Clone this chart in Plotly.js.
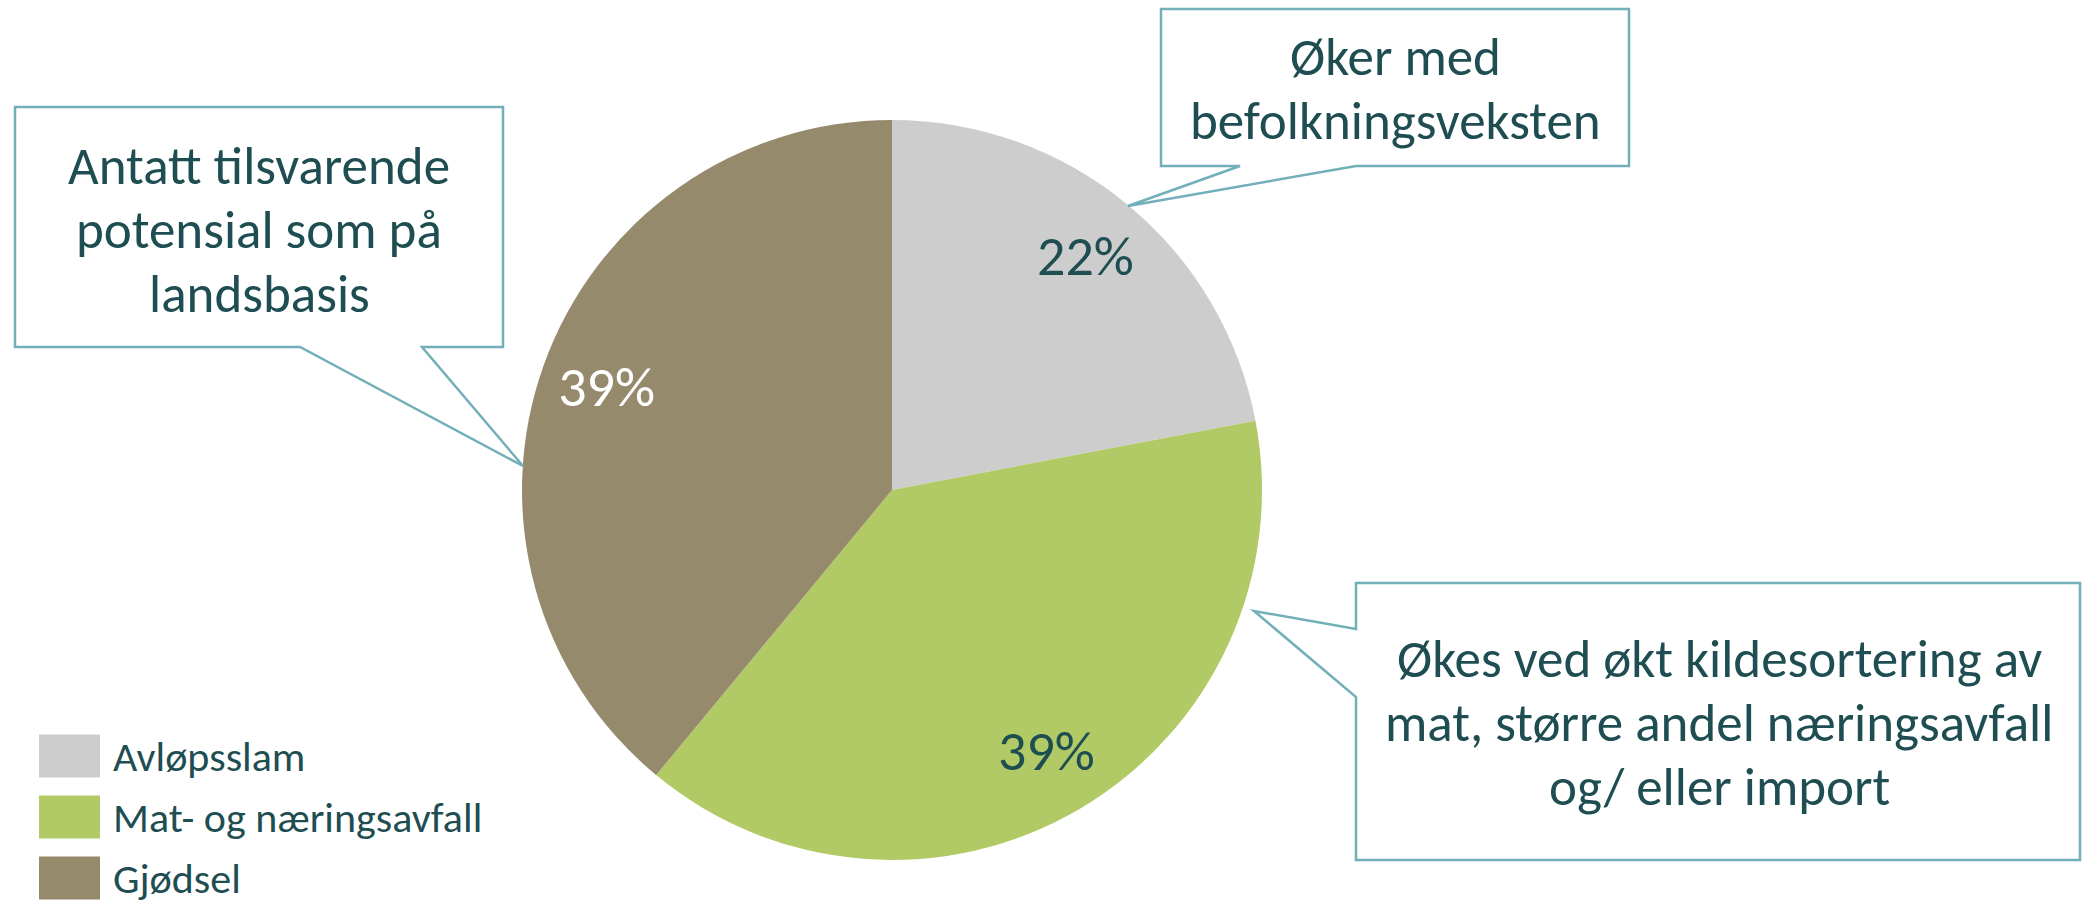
<!DOCTYPE html>
<html>
<head>
<meta charset="utf-8">
<script src="https://cdn.plot.ly/plotly-3.0.1.min.js"></script>
<style>html,body{margin:0;padding:0;background:#fff;}#chart{width:2083px;height:904px;}</style>
</head>
<body>
<div id="chart"></div>
<script>
// ---- data ----
const categories = ['Avløpsslam', 'Mat- og næringsavfall', 'Gjødsel'];
const values = [22, 39, 39];
const colors = ['#CDCDCD', '#B1CA65', '#968A6C'];
const labelColors = ['#1F4E52', '#1F4E52', '#FFFFFF'];
const calloutTexts = [
  ['Øker med', 'befolkningsveksten'],
  ['Økes ved økt kildesortering av', 'mat, større andel næringsavfall', 'og/ eller import'],
  ['Antatt tilsvarende', 'potensial som på', 'landsbasis']
];

// ---- layout helpers ----
const W = 2083, H = 904;
const FONT = 'Carlito, Lato, "Open Sans", sans-serif';
const TEXT = '#1F4E52';
const BORDER = '#72AFB9';
const px = (x) => x / W;
const py = (y) => 1 - y / H;
const P = (x, y) => px(x) + ',' + py(y);
function pathOf(points) {
  return 'M' + points.map(p => P(p[0], p[1])).join(' L') + ' Z';
}

const cx = 892, cy = 490, R = 370;
const domain = {
  x: [px(cx - R), px(cx + R)],
  y: [py(cy + R), py(cy - R)]
};

const traces = [
  {
    type: 'pie',
    labels: categories,
    values: values,
    sort: false,
    direction: 'clockwise',
    rotation: 0,
    domain: domain,
    marker: { colors: colors, line: { width: 0 } },
    textinfo: 'none',
    hoverinfo: 'label+percent',
    showlegend: false
  },
  {
    type: 'pie',
    labels: categories,
    values: values,
    sort: false,
    direction: 'clockwise',
    rotation: 0,
    hole: 0.64,
    domain: domain,
    marker: { colors: categories.map(() => 'rgba(0,0,0,0)'), line: { width: 0 } },
    texttemplate: '%{percent:.0%}',
    textposition: 'inside',
    insidetextorientation: 'horizontal',
    textfont: { family: FONT, size: 56, color: labelColors },
    hoverinfo: 'skip',
    showlegend: false
  }
];

// callout boxes (speech bubbles)
const LINE_GAP = 64;
const callouts = [
  { pts: [[1161, 9], [1629, 9], [1629, 166], [1356, 166], [1128, 206], [1240, 166], [1161, 166]], tx: 1395, ty0: 57 },
  { pts: [[1356, 583], [2080, 583], [2080, 860], [1356, 860], [1356, 697], [1254, 611], [1356, 629]], tx: 1719, ty0: 659 },
  { pts: [[15, 107], [503, 107], [503, 347], [422, 347], [523, 466], [300, 347], [15, 347]], tx: 259, ty0: 166 }
];

const shapes = [];
const annotations = [];
callouts.forEach((c, i) => {
  shapes.push({
    type: 'path', xref: 'paper', yref: 'paper',
    path: pathOf(c.pts),
    fillcolor: '#FFFFFF',
    line: { color: BORDER, width: 2.5 },
    layer: 'above'
  });
  calloutTexts[i].forEach((line, j) => {
    annotations.push({
      xref: 'paper', yref: 'paper', x: px(c.tx), y: py(c.ty0 + j * LINE_GAP),
      xanchor: 'center', yanchor: 'middle', align: 'center',
      showarrow: false, text: line,
      font: { family: FONT, size: 53, color: TEXT }
    });
  });
});

// custom legend
const legX = 39, legW = 61, legH = 43, legY0 = 756, legStep = 61;
categories.forEach((cat, i) => {
  const yc = legY0 + i * legStep;
  shapes.push({
    type: 'rect', xref: 'paper', yref: 'paper',
    x0: px(legX), x1: px(legX + legW), y0: py(yc + legH / 2), y1: py(yc - legH / 2),
    fillcolor: colors[i], line: { width: 0 }, layer: 'above'
  });
  annotations.push({
    xref: 'paper', yref: 'paper', x: px(111), y: py(yc),
    xanchor: 'left', yanchor: 'middle', showarrow: false, text: cat,
    font: { family: FONT, size: 42, color: TEXT }
  });
});

const layout = {
  width: W, height: H,
  margin: { l: 0, r: 0, t: 0, b: 0, pad: 0 },
  paper_bgcolor: '#FFFFFF',
  plot_bgcolor: '#FFFFFF',
  showlegend: false,
  shapes: shapes,
  annotations: annotations,
  font: { family: FONT, color: TEXT }
};

Plotly.newPlot('chart', traces, layout, { displayModeBar: false, staticPlot: true });
</script>
</body>
</html>
